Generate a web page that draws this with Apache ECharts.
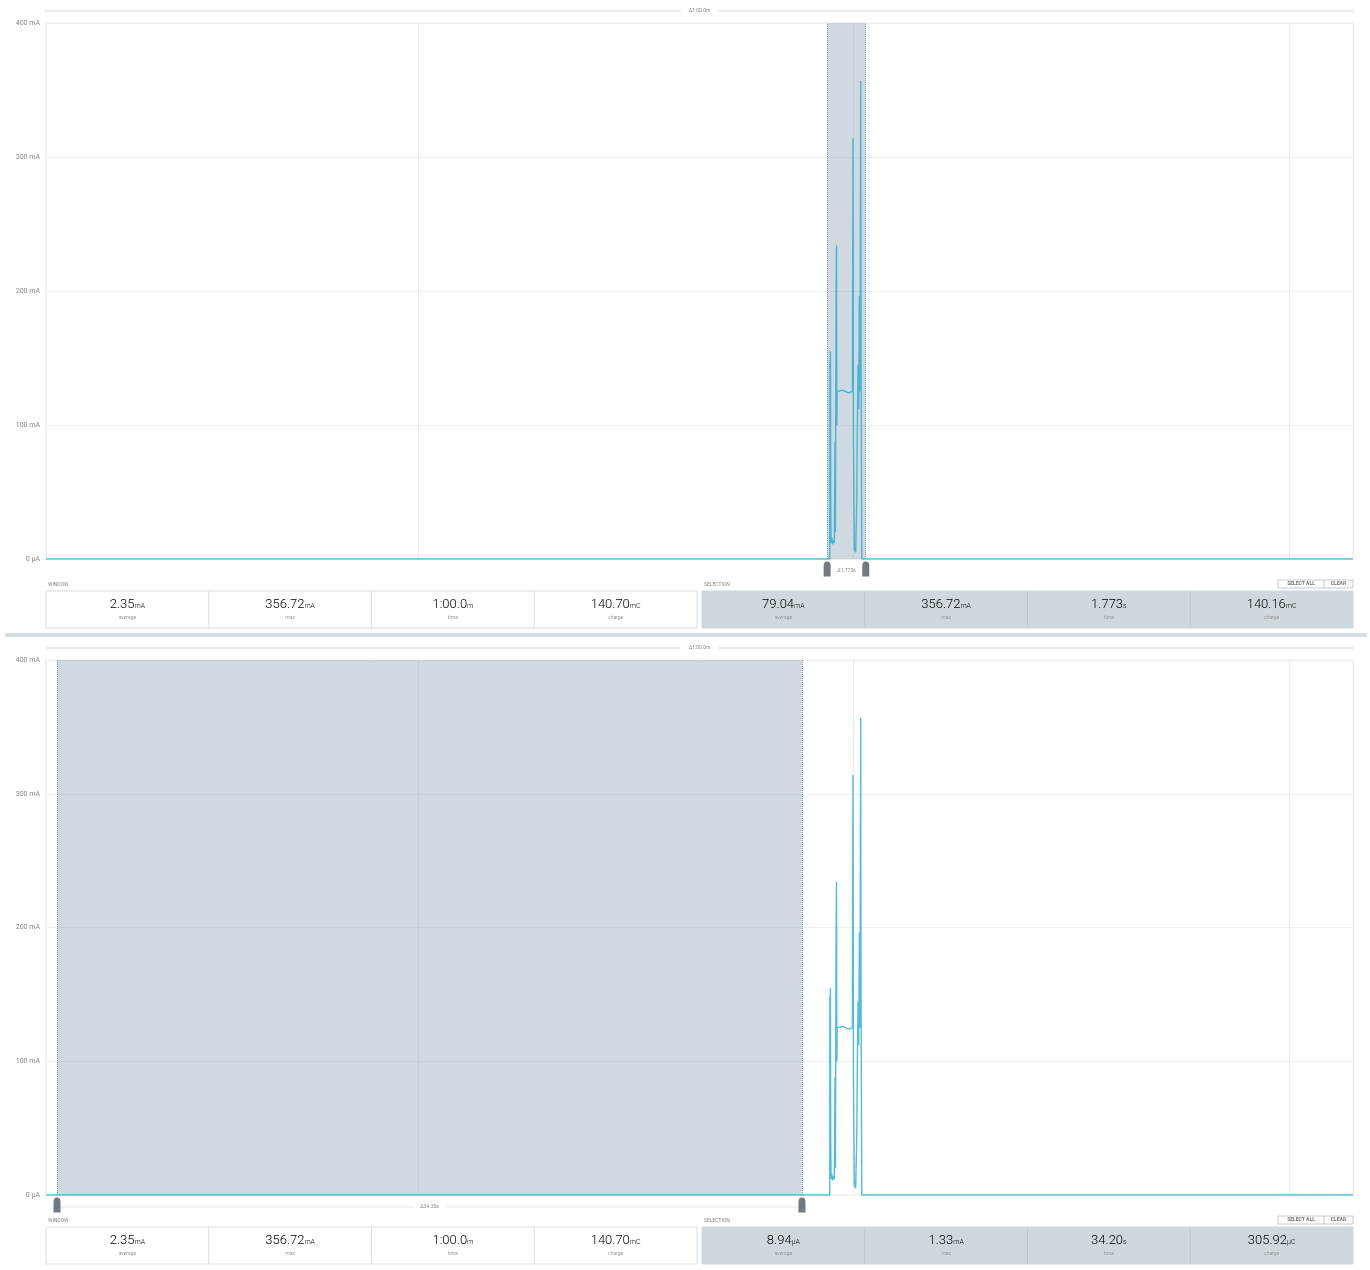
<!DOCTYPE html>
<html>
<head>
<meta charset="utf-8">
<title>Power profile</title>
<script src="https://cdn.jsdelivr.net/npm/echarts@6/dist/echarts.min.js"></script>
<style>
  html, body { margin: 0; padding: 0; background: #fff; }
  #chart { width: 1370px; height: 1270px; }
</style>
</head>
<body>
<div id="chart"></div>
<script>
// time axis in seconds, the window is one minute wide
const windowStart = 2.92;
const windowEnd = 62.92;
const yTickLabels = { 0: "0 µA", 100: "100 mA", 200: "200 mA", 300: "300 mA", 400: "400 mA" };

// current trace (s, mA)
const traceTime = [windowStart, 38.90, 38.905, 38.915, 38.93, 38.945, 38.96, 38.99, 39.03, 39.07, 39.11, 39.14,
  39.16, 39.19, 39.21, 39.225, 39.24, 39.50, 39.75, 39.94, 39.965, 39.985, 40.00, 40.03, 40.09, 40.14, 40.17,
  40.20, 40.23, 40.26, 40.29, 40.32, 40.335, 40.37, 40.39, windowEnd];
const traceCurrent = [0, 0, 148, 22, 155, 40, 12, 16, 11, 14, 12, 88,
  20, 200, 234, 100, 125, 126, 124, 125, 314, 97, 62, 7, 5, 44, 105,
  145, 112, 196, 125, 356.72, 150, 0, 0, 0];

// selections of the two panels (s)
const selectionTop = [38.78, 40.553];
const selectionBottom = [3.425, 37.625];

const statNames = ["average", "max", "time", "charge"];
const windowStats = [["2.35", "mA"], ["356.72", "mA"], ["1:00.0", "m"], ["140.70", "mC"]];
const selectionStatsTop = [["79.04", "mA"], ["356.72", "mA"], ["1.773", "s"], ["140.16", "mC"]];
const selectionStatsBottom = [["8.94", "µA"], ["1.33", "mA"], ["34.20", "s"], ["305.92", "µC"]];
const windowSpan = "Δ1:00.0m";
const selectionSpanTop = "Δ1.773s";
const selectionSpanBottom = "Δ34.20s";

const FONT = "Roboto";
const panels = [
  { top: 23, height: 536, sel: selectionTop, stats: selectionStatsTop, span: selectionSpanTop, spanLine: false },
  { top: 660, height: 535, sel: selectionBottom, stats: selectionStatsBottom, span: selectionSpanBottom, spanLine: true },
];

var chart = echarts.init(document.getElementById("chart"));
var trace = traceTime.map((t, i) => [t, traceCurrent[i]]);
var pinPath = "path://M0,4 Q0,0 4,0 Q8,0 8,4 L8,14 L0,14 Z";

var option = {
  animation: false,
  backgroundColor: "#fff",
  grid: panels.map((p) => ({
    left: 46, top: p.top, width: 1307, height: p.height,
    show: true, borderColor: "#ececec", borderWidth: 1,
  })),
  xAxis: panels.map((p, i) => ({
    type: "value", gridIndex: i, min: windowStart, max: windowEnd, splitNumber: 3,
    axisLine: { show: false }, axisTick: { show: false }, axisLabel: { show: false },
    splitLine: { lineStyle: { color: "#ececec" } },
  })),
  yAxis: panels.map((p, i) => ({
    type: "value", gridIndex: i, min: 0, max: 400, interval: 100,
    axisLine: { show: false }, axisTick: { show: false },
    axisLabel: {
      fontFamily: FONT, fontSize: 7, color: "#888", margin: 6,
      formatter: (v) => yTickLabels[v],
    },
    splitLine: { lineStyle: { color: "#efefef" } },
  })),
  series: [],
};

panels.forEach((p, i) => {
  option.series.push({
    type: "line", xAxisIndex: i, yAxisIndex: i, data: trace,
    showSymbol: false, lineStyle: { color: "rgba(34,172,214,0.8)", width: 1.4 },
    markArea: {
      silent: true,
      itemStyle: { color: "rgba(150,170,184,0.45)" },
      data: [[{ xAxis: p.sel[0] }, { xAxis: p.sel[1] }]],
    },
    markLine: {
      silent: true, symbol: "none", label: { show: false },
      lineStyle: { type: "dotted", color: "#8895a0", width: 1 },
      data: [{ xAxis: p.sel[0] }, { xAxis: p.sel[1] }],
    },
  });
  option.series.push({
    type: "scatter", xAxisIndex: i, yAxisIndex: i, clip: false, z: 5,
    symbol: pinPath, symbolSize: [7, 15], symbolOffset: [0, 10],
    itemStyle: { color: "#4d5862" },
    data: [[p.sel[0], 0], [p.sel[1], 0]],
  });
});

chart.setOption(option);

// overlays: spans, stats boxes
function statsBox(x, y, stats, filled) {
  var els = [{
    type: "rect", shape: { x: x, y: y, width: 651, height: 37 },
    style: { fill: filled ? "#cfd8dd" : "#fff", stroke: filled ? "#cfd8dd" : "#d9dee1", lineWidth: 1 },
  }];
  var cw = 651 / 4;
  for (var k = 0; k < 4; k++) {
    if (k > 0) {
      els.push({ type: "line", shape: { x1: x + k * cw, y1: y, x2: x + k * cw, y2: y + 37 },
        style: { stroke: filled ? "#bfc9cf" : "#d9dee1", lineWidth: 1 } });
    }
    els.push({
      type: "text", x: x + (k + 0.5) * cw, y: y + 13,
      style: {
        text: "{v|" + stats[k][0] + "}{u|" + stats[k][1] + "}",
        align: "center", verticalAlign: "middle",
        rich: {
          v: { fontFamily: FONT, fontSize: 13, fontWeight: 300, color: "#757575", lineHeight: 14, verticalAlign: "bottom" },
          u: { fontFamily: FONT, fontSize: 7, fontWeight: 300, color: "#757575", lineHeight: 14, verticalAlign: "bottom", padding: [0, 0, 1, 0] },
        },
      },
    });
    els.push({
      type: "text", x: x + (k + 0.5) * cw, y: y + 27,
      style: { text: statNames[k], fontFamily: FONT, fontSize: 5, fill: "#999", align: "center", verticalAlign: "middle" },
    });
  }
  return els;
}

var graphics = [{
  type: "rect", shape: { x: 5, y: 633, width: 1362, height: 4 }, style: { fill: "#d3dce1" },
}];

panels.forEach((p, i) => {
  var left = chart.convertToPixel({ gridIndex: i }, [windowStart, 0]);
  var right = chart.convertToPixel({ gridIndex: i }, [windowEnd, 0]);
  var s0 = chart.convertToPixel({ gridIndex: i }, [p.sel[0], 0]);
  var s1 = chart.convertToPixel({ gridIndex: i }, [p.sel[1], 0]);
  var topY = p.top - 12;
  var midX = (left[0] + right[0]) / 2;

  graphics.push(
    { type: "line", shape: { x1: left[0], y1: topY, x2: right[0], y2: topY }, style: { stroke: "#e7ebed", lineWidth: 2 } },
    { type: "line", shape: { x1: left[0], y1: topY - 3, x2: left[0], y2: topY + 3 }, style: { stroke: "#e7ebed", lineWidth: 1 } },
    { type: "line", shape: { x1: right[0], y1: topY - 3, x2: right[0], y2: topY + 3 }, style: { stroke: "#e7ebed", lineWidth: 1 } },
    { type: "text", x: midX, y: topY, z: 10,
      style: { text: windowSpan, fontFamily: FONT, fontSize: 5, fill: "#888", align: "center", verticalAlign: "middle",
        backgroundColor: "#fff", padding: [1, 8] } }
  );

  var spanY = s0[1] + 12;
  if (p.spanLine) {
    graphics.push({ type: "line", shape: { x1: s0[0], y1: spanY, x2: s1[0], y2: spanY },
      style: { stroke: "#e5e8ea", lineWidth: 1 } });
  }
  graphics.push({ type: "text", x: (s0[0] + s1[0]) / 2, y: spanY, z: 10,
    style: { text: p.span, fontFamily: FONT, fontSize: 5, fill: "#888", align: "center", verticalAlign: "middle",
      backgroundColor: "#fff", padding: [1, 6] } });

  var boxY = p.top + p.height + 32;
  graphics.push(
    { type: "text", x: 48, y: boxY - 6, style: { text: "WINDOW", fontFamily: FONT, fontSize: 5, fill: "#888", verticalAlign: "middle" } },
    { type: "text", x: 704, y: boxY - 6, style: { text: "SELECTION", fontFamily: FONT, fontSize: 5, fill: "#888", verticalAlign: "middle" } },
    { type: "rect", shape: { x: 1278, y: boxY - 11, width: 75, height: 8 }, style: { fill: "#fff", stroke: "#bbb", lineWidth: 0.8 } },
    { type: "line", shape: { x1: 1324, y1: boxY - 11, x2: 1324, y2: boxY - 3 }, style: { stroke: "#bbb", lineWidth: 0.8 } },
    { type: "text", x: 1301, y: boxY - 7, style: { text: "SELECT ALL", fontFamily: FONT, fontSize: 5, fontWeight: "bold", fill: "#777", align: "center", verticalAlign: "middle" } },
    { type: "text", x: 1338.5, y: boxY - 7, style: { text: "CLEAR", fontFamily: FONT, fontSize: 5, fontWeight: "bold", fill: "#777", align: "center", verticalAlign: "middle" } }
  );
  graphics = graphics.concat(statsBox(46, boxY, windowStats, false), statsBox(702, boxY, p.stats, true));
});

chart.setOption({ graphic: graphics });
</script>
</body>
</html>
